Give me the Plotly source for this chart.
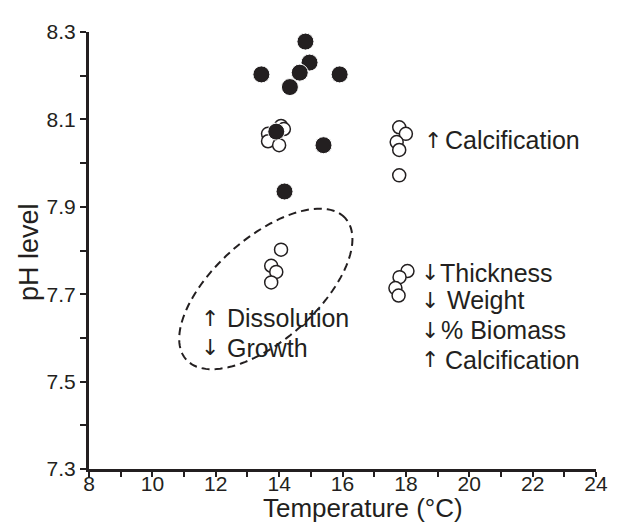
import numpy as np
import plotly.graph_objects as go

# ---- data ----
filled_temp = [13.44, 14.83, 14.96, 14.65, 14.34, 15.91, 13.91, 15.40, 14.17]
filled_ph = [8.203, 8.278, 8.230, 8.207, 8.174, 8.203, 8.072, 8.041, 7.935]

open_temp = [14.06, 14.15, 13.65, 13.65, 14.00,
             17.79, 18.00, 17.71, 17.79, 17.79,
             18.05, 17.80, 17.67, 17.77,
             14.06, 13.75, 13.91, 13.75]
open_ph = [8.085, 8.078, 8.067, 8.050, 8.041,
           8.082, 8.067, 8.048, 8.030, 7.972,
           7.753, 7.739, 7.714, 7.697,
           7.802, 7.765, 7.751, 7.727]

x_ticks = [8, 10, 12, 14, 16, 18, 20, 22, 24]
y_ticks = [7.3, 7.5, 7.7, 7.9, 8.1, 8.3]
y_tick_labels = ["7.3", "7.5", "7.7", "7.9", "8.1", "8.3"]

INK = "#231f20"
FONT = "Liberation Sans, Arial, sans-serif"

fig = go.Figure()
fig.add_trace(go.Scatter(
    x=open_temp, y=open_ph, mode="markers",
    marker=dict(size=13, color="white", line=dict(color=INK, width=1.5)),
    showlegend=False, hoverinfo="skip"))
fig.add_trace(go.Scatter(
    x=filled_temp, y=filled_ph, mode="markers",
    marker=dict(size=17, color=INK, line=dict(color="white", width=1)),
    showlegend=False, hoverinfo="skip"))

# dashed ellipse (defined in screen-proportional units so it keeps its tilt)
px_per_x = 32.0   # pixels per degree C
px_per_y = 446.0  # pixels per pH unit
cx, cy = 13.58, 7.712
a_px, b_px, ang = 108.0, 52.0, np.deg2rad(42)
t = np.linspace(0, 2 * np.pi, 120)
ex = a_px * np.cos(t) * np.cos(ang) - b_px * np.sin(t) * np.sin(ang)
ey = a_px * np.cos(t) * np.sin(ang) + b_px * np.sin(t) * np.cos(ang)
xs = cx + ex / px_per_x
ys = cy + ey / px_per_y
path = "M " + " L ".join(f"{x:.4f},{y:.4f}" for x, y in zip(xs, ys)) + " Z"
fig.add_shape(type="path", path=path, xref="x", yref="y",
              line=dict(color=INK, width=2, dash="8px,5px"))

# text annotations: (arrow, arrow_x, text, text_x, y)
notes = [
    ("↑", 18.856, "Calcification", 19.169, 8.052),
    ("↓", 18.75, "Thickness", 19.01, 7.749),
    ("↓", 18.75, "Weight", 19.24, 7.686),
    ("↓", 18.75, "% Biomass", 19.06, 7.617),
    ("↑", 18.75, "Calcification", 19.169, 7.550),
    ("↑", 11.825, "Dissolution", 12.294, 7.645),
    ("↓", 11.825, "Growth", 12.294, 7.577),
]
for arrow, axp, txt, tx, yy in notes:
    fig.add_annotation(x=axp, y=yy, xref="x", yref="y", text=arrow,
                       showarrow=False, xanchor="center", yanchor="middle",
                       font=dict(size=22, color=INK, family="DejaVu Sans"))
    fig.add_annotation(x=tx, y=yy, xref="x", yref="y", text=txt,
                       showarrow=False, xanchor="left", yanchor="middle",
                       font=dict(size=25, color=INK, family=FONT))

# axis titles
fig.add_annotation(x=(366 - 89) / 512.4, y=(468.7 - 509) / 446.0,
                   xref="paper", yref="paper",
                   text="Temperature (°C)", showarrow=False,
                   xanchor="center", yanchor="middle",
                   font=dict(size=26, color=INK, family=FONT))
fig.add_annotation(x=-0.118, y=(468.7 - 247) / 446.0, xref="paper", yref="paper",
                   text="pH level", textangle=-90, showarrow=False,
                   xanchor="center", yanchor="middle",
                   font=dict(size=27, color=INK, family=FONT))

# the page body adds an 8px offset, so the figure is drawn 8px smaller
fig.update_layout(
    width=612, height=519,
    margin=dict(l=81, r=18, t=15, b=58),
    paper_bgcolor="white", plot_bgcolor="white",
    font=dict(family=FONT, color=INK),
)
fig.update_xaxes(
    range=[8, 24], tickvals=x_ticks, ticktext=[str(v) for v in x_ticks],
    showgrid=False, zeroline=False, showline=True, linewidth=3, linecolor=INK,
    ticks="outside", ticklen=5, tickwidth=2, tickcolor=INK, ticklabelstandoff=-11,
    tickfont=dict(size=21, color=INK, family=FONT),
    minor=dict(dtick=1, tick0=8, ticks="outside", ticklen=5, tickwidth=2, tickcolor=INK),
)
fig.update_yaxes(
    range=[7.3, 8.3], tickvals=y_ticks, ticktext=y_tick_labels,
    showgrid=False, zeroline=False, showline=True, linewidth=3, linecolor=INK,
    ticks="outside", ticklen=6, tickwidth=2, tickcolor=INK,
    tickfont=dict(size=21, color=INK, family=FONT),
    minor=dict(dtick=0.1, tick0=7.3, ticks="outside", ticklen=6, tickwidth=2, tickcolor=INK),
)

fig.write_html("out.html")
